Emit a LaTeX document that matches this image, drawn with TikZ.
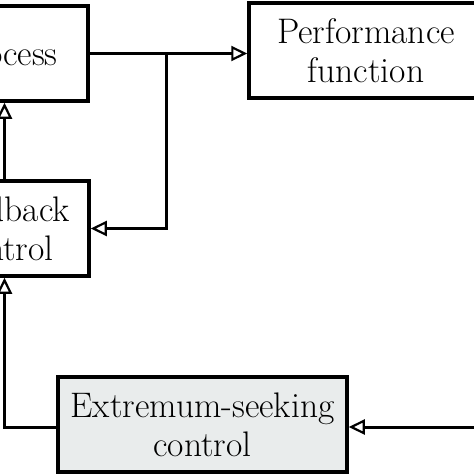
\documentclass[tikz,border=0pt]{standalone}
\usetikzlibrary{arrows.meta}
\definecolor{escfill}{RGB}{233,236,236}
\begin{document}
\begin{tikzpicture}[x=1pt,y=-1pt,
  blockbox/.style={draw, line width=3.5pt, inner sep=0pt, minimum height=95pt,
    align=center, font=\fontsize{35.5}{39}\selectfont},
  conn/.style={line width=3pt, -{Triangle[open, length=16pt, width=15pt, line width=2.2pt]}}]
\useasboundingbox (0,0) rectangle (474,474);
\clip (0,0) rectangle (474,474);
\node[blockbox, minimum width=167pt] (proc) at (4.5,53.5) {Process};
\node[blockbox, minimum width=169pt] (fb) at (4.5,228.5) {Feedback\\control};
\node[blockbox, minimum width=234pt] (perf) at (366,50.5) {Performance\\function};
\node[blockbox, minimum width=289pt, fill=escfill] (esc) at (202.5,424.5) {Extremum-seeking\\control};
\coordinate (branch) at (166,53.5);
\coordinate (inright) at (490,427);
\draw[conn] (proc.east) -- (perf.west |- proc.east);
\draw[conn] (branch) |- (fb.east);
\draw[conn] (fb.north) -- (proc.south);
\draw[conn] (esc.west |- inright) -| (fb.south);
\draw[conn] (inright) -- (esc.east |- inright);
\end{tikzpicture}
\end{document}
